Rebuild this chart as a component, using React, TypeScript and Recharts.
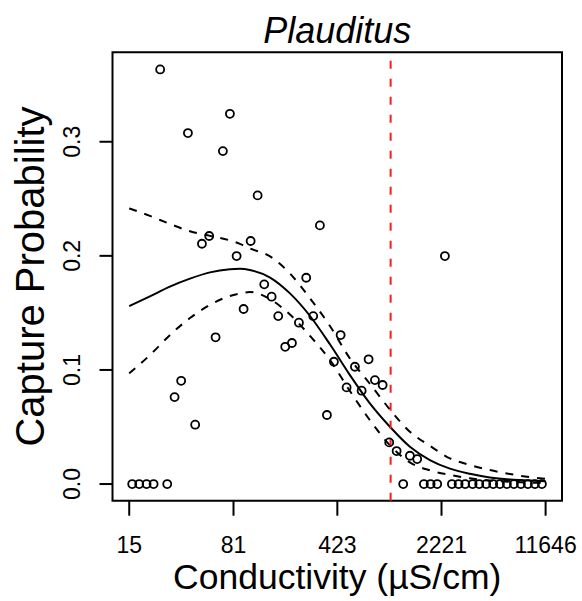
import { ComposedChart, Line, Scatter, XAxis, YAxis, ReferenceLine, ReferenceArea } from 'recharts';

const FONT = '"Liberation Sans", Arial, Helvetica, sans-serif';

// fitted curve and 95% band, sampled along conductivity (µS/cm)
const CURVE_COND = [15.4, 21.4, 29.4, 40.5, 55.7, 76.5, 89.7, 105, 145, 199, 273, 376, 517, 710, 977, 1343, 1846, 2538, 3490, 4798, 6596, 9071, 11646];
const FIT = [0.156, 0.1645, 0.173, 0.18, 0.1855, 0.1882, 0.1886, 0.1876, 0.181, 0.1671, 0.1475, 0.1225, 0.0955, 0.0707, 0.0502, 0.0327, 0.021, 0.0135, 0.009, 0.0058, 0.004, 0.003, 0.0025];
const UPPER = [0.2416, 0.235, 0.228, 0.2215, 0.2175, 0.2135, 0.2105, 0.2065, 0.1995, 0.1845, 0.163, 0.1385, 0.11, 0.0879, 0.0653, 0.0458, 0.0335, 0.0225, 0.0167, 0.0123, 0.0088, 0.006, 0.0045];
const LOWER = [0.097, 0.113, 0.1305, 0.1455, 0.157, 0.1648, 0.167, 0.1683, 0.162, 0.1485, 0.13, 0.1087, 0.0815, 0.056, 0.034, 0.019, 0.012, 0.008, 0.005, 0.003, 0.002, 0.0012, 0.001];

// observed capture probabilities per site
const SITE_COND = [
  25.2, 76.5, 39.2, 68.4, 118.9, 320.5, 55.0, 49.0, 106.4, 85.1, 257.7, 132.1, 148.6, 95.1, 165.1, 288.1, 229.5,
  445.7, 205.3, 184.5, 60.9, 400.5, 490.2, 358.4, 35.2, 31.7, 44.0, 559.6, 695.8, 769.4, 869.8, 622.6, 966.0,
  1086.7, 1343, 1508, 2344,
  16.15, 18.05, 20.3, 22.7, 28.2, 1207, 1678, 1867, 2074, 2621, 2915, 3239, 3643, 4047, 4524, 5057, 5626,
  6288, 7031, 7861, 8788, 9822, 10980,
];
const SITE_PROB = [
  0.3634, 0.3245, 0.3076, 0.2918, 0.253, 0.2267, 0.2174, 0.2106, 0.213, 0.1998, 0.1808, 0.175, 0.1642, 0.1534,
  0.1472, 0.1472, 0.1414, 0.1306, 0.1236, 0.1203, 0.1286, 0.1072, 0.0847, 0.0605, 0.0905, 0.0762, 0.052,
  0.1028, 0.1093, 0.0911, 0.0868, 0.0818, 0.0365, 0.0289, 0.0248, 0.0219, 0.1998,
  0, 0, 0, 0, 0, 0, 0, 0, 0, 0, 0, 0, 0, 0, 0, 0, 0, 0, 0, 0, 0, 0, 0,
];

const X_TICKS = [15.4, 81, 423, 2221, 11646];
const Y_TICKS = [0, 0.1, 0.2, 0.3];
const THRESHOLD = 988;

const X_DOMAIN: [number, number] = [11.8, 15120];
const Y_DOMAIN: [number, number] = [-0.0146, 0.3784];

const curve = CURVE_COND.map((c, i) => ({ cond: c, fit: FIT[i], upper: UPPER[i], lower: LOWER[i] }));
const sites = SITE_COND.map((c, i) => ({ cond: c, prob: SITE_PROB[i] }));

const XTick = ({ x, payload }: any) => (
  <text x={x} y={553.3} textAnchor="middle" fontSize={23} fontFamily={FONT} fill="#000">
    {Math.round(payload.value)}
  </text>
);

const YTick = ({ y, payload }: any) => (
  <text x={80} y={y} transform={`rotate(-90 80 ${y})`} textAnchor="middle" fontSize={23} fontFamily={FONT} fill="#000">
    {payload.value.toFixed(1)}
  </text>
);

const Ring = ({ cx, cy }: any) => <circle cx={cx} cy={cy} r={4} fill="none" stroke="#000" strokeWidth={1.8} />;

export default function App() {
  return (
    <div style={{ width: 582, height: 601, position: 'absolute', left: 0, top: 0 }}>
      <ComposedChart width={582} height={601} margin={{ top: 52.3, right: 20, bottom: 0, left: 0 }}>
        <XAxis
          dataKey="cond"
          type="number"
          scale="log"
          domain={X_DOMAIN}
          allowDataOverflow
          ticks={X_TICKS}
          height={100.3}
          axisLine={false}
          tickLine={{ stroke: '#000', strokeWidth: 2 }}
          tickSize={15}
          tick={<XTick />}
          interval={0}
        />
        <YAxis
          type="number"
          domain={Y_DOMAIN}
          allowDataOverflow
          ticks={Y_TICKS}
          width={112.5}
          axisLine={false}
          tickLine={{ stroke: '#000', strokeWidth: 2 }}
          tickSize={13}
          tick={<YTick />}
          interval={0}
        />
        <ReferenceArea
          x1={X_DOMAIN[0]}
          x2={X_DOMAIN[1]}
          y1={Y_DOMAIN[0]}
          y2={Y_DOMAIN[1]}
          fill="none"
          fillOpacity={0}
          stroke="#000"
          strokeWidth={2}
          ifOverflow="visible"
        />
        <Scatter data={sites} dataKey="prob" shape={<Ring />} isAnimationActive={false} />
        <Line data={curve} dataKey="fit" type="monotone" stroke="#000" strokeWidth={2} dot={false} isAnimationActive={false} />
        <Line data={curve} dataKey="upper" type="monotone" stroke="#000" strokeWidth={2} strokeDasharray="8 8" dot={false} isAnimationActive={false} />
        <Line data={curve} dataKey="lower" type="monotone" stroke="#000" strokeWidth={2} strokeDasharray="8 8" dot={false} isAnimationActive={false} />
        <ReferenceLine x={THRESHOLD} stroke="#ff1a1a" strokeWidth={2} strokeDasharray="8 10" />
        <text x={337.2} y={42.5} textAnchor="middle" fontSize={36} fontStyle="italic" fontFamily={FONT} fill="#000">
          Plauditus
        </text>
        <text x={337.2} y={589} textAnchor="middle" fontSize={35.5} fontFamily={FONT} fill="#000">
          Conductivity (µS/cm)
        </text>
        <text x={43.5} y={276.5} transform="rotate(-90 43.5 276.5)" textAnchor="middle" fontSize={40} fontFamily={FONT} fill="#000">
          Capture Probability
        </text>
      </ComposedChart>
    </div>
  );
}
